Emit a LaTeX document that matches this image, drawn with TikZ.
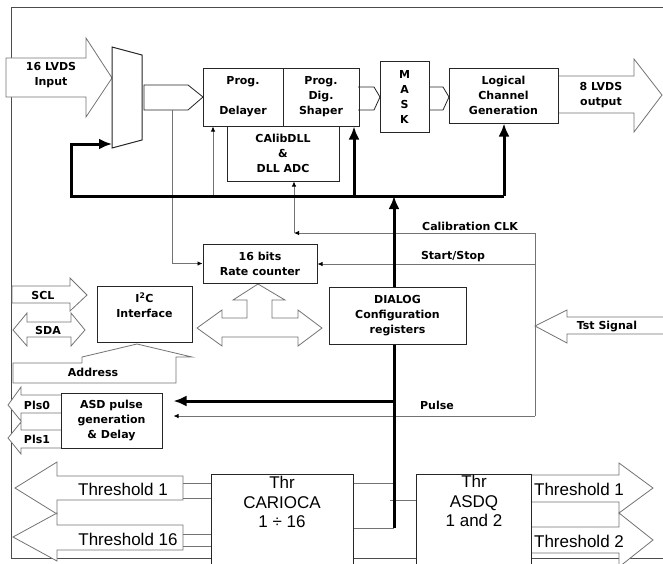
\documentclass[tikz,border=0pt]{standalone}
\usepackage{fontspec}
\setmainfont{DejaVu Sans}
\newfontfamily\grand{Liberation Sans}
\usetikzlibrary{arrows.meta}

\begin{document}
\begin{tikzpicture}[
		x=1pt, y=-1pt,
		bloc/.style={
			draw=black!85,
			line width=1pt,
			fill=white,
			inner sep=0pt,
			align=center,
			font=\fontsize{11}{15}\selectfont\bfseries,
		},
		etiq/.style={
			inner sep=0pt,
			align=center,
			font=\fontsize{11}{15}\selectfont\bfseries,
		},
		grandetiq/.style={
			inner sep=0pt,
			align=center,
			font=\grand\fontsize{17}{19.5}\selectfont,
		},
		fleche/.style={
			draw=black!55,
			line width=0.8pt,
			fill=white,
		},
		fil/.style={
			draw=black!55,
			line width=0.8pt,
			>={Latex[length=5pt, width=4.5pt, color=black]},
		},
		bus/.style={
			line width=3pt,
			>={Latex[length=13pt, width=11pt]},
		},
	]

		\useasboundingbox (0,0) rectangle (663,563);

		% Cadre
		\draw[black!70, line width=0.8pt] (663,7) -- (11,7) -- (11,558) -- (663,558);

		% Fleches larges (entrees / sorties)
		\draw[fleche] (6,58) -- (86,58) -- (86,38) -- (112,78) -- (86,117) -- (86,97) -- (6,97) -- cycle;
		\node[etiq] (lvdsin) at (51,75) {16 LVDS\\Input};

		\draw[fleche] (558,76) -- (634,76) -- (634,59) -- (662,95) -- (634,132) -- (634,113) -- (558,113) -- cycle;
		\node[etiq] (lvdsout) at (601,95) {8 LVDS\\output};

		\draw[fleche] (663,317) -- (567,317) -- (567,310) -- (535,326) -- (567,343) -- (567,334) -- (663,334);
		\node[etiq] (tst) at (607,326) {Tst Signal};

		\draw[fleche] (12,286) -- (70,286) -- (70,278) -- (87,295) -- (70,311) -- (70,303) -- (12,303) -- cycle;
		\node[etiq] (scl) at (43,295) {SCL};

		\draw[fleche] (13,330) -- (27,313) -- (27,322) -- (71,322) -- (71,313) -- (85,330) -- (71,346) -- (71,337) -- (27,337) -- (27,346) -- cycle;
		\node[etiq] (sda) at (48,330) {SDA};

		\draw[fleche] (13,363) -- (82,363) -- (82,357) -- (137,344) -- (192,357) -- (176,357) -- (176,383) -- (13,383) -- cycle;
		\node[etiq] (addr) at (93,372) {Address};

		\draw[fleche] (197,328) -- (222,310) -- (222,318) -- (247,318) -- (247,300) -- (233,300) -- (258,284) -- (285,300) -- (272,300) -- (272,318) -- (298,318) -- (298,310) -- (322,328) -- (298,346) -- (298,337) -- (222,337) -- (222,346) -- cycle;

		\draw[fleche] (61,395) -- (21,395) -- (21,387) -- (8,405) -- (21,421) -- (21,413) -- (61,413);
		\node[etiq] (pls0) at (37,405) {Pls0};
		\draw[fleche] (61,430) -- (21,430) -- (21,422) -- (8,438) -- (21,454) -- (21,448) -- (61,448);
		\node[etiq] (pls1) at (37,439) {Pls1};

		\draw[fleche] (183,476) -- (57,476) -- (57,462) -- (15,488) -- (57,514) -- (57,500) -- (183,500) -- cycle;
		\node[grandetiq] (thrA) at (123,489) {Threshold 1};
		\draw[fleche] (183,525) -- (57,525) -- (57,513) -- (13,537) -- (57,561) -- (57,550) -- (183,550) -- cycle;
		\node[grandetiq] (thrB) at (128,539) {Threshold 16};

		\draw[fleche] (532,475) -- (619,475) -- (619,463) -- (653,488) -- (619,513) -- (619,502) -- (532,502);
		\node[grandetiq] (thrC) at (579,489) {Threshold 1};
		\draw[fleche] (532,527) -- (619,527) -- (619,513) -- (653,540) -- (619,567) -- (619,553) -- (532,553);
		\node[grandetiq] (thrD) at (579,541) {Threshold 2};

		% Multiplexeur
		\draw[draw=black!85, line width=1pt, fill=white] (112,47) -- (142,55) -- (142,140) -- (112,148) -- cycle;
		\coordinate (muxin) at (112,144);
		\draw[fleche, draw=black!85] (144,85) -- (188,85) -- (203,97) -- (188,110) -- (144,110) -- cycle;
		\coordinate (tap) at (172,110);

		% Blocs
		\node[bloc, minimum width=80pt, minimum height=58pt] (delayer) at (243,97) {Prog.\\[15pt]Delayer};
		\node[bloc, minimum width=76pt, minimum height=58pt] (shaper) at (321,97) {Prog.\\Dig.\\Shaper};
		\node[bloc, minimum width=112pt, minimum height=55pt] (calib) at (283,153.5) {CAlibDLL\\\&\\DLL ADC};
		\node[bloc, minimum width=49pt, minimum height=71pt] (mask) at (404.5,96.5) {M\\A\\S\\K};
		\node[bloc, minimum width=109pt, minimum height=55pt] (logic) at (503.5,95.5) {Logical\\Channel\\Generation};
		\node[bloc, minimum width=114pt, minimum height=39pt] (rate) at (260,263.5) {16 bits\\Rate counter};
		\node[bloc, minimum width=95pt, minimum height=56pt] (i2c) at (144.5,314) {};
		\node[etiq] (i2ctxt) at (144.5,305) {I\textsuperscript{2}C\\Interface};
		\node[bloc, minimum width=137pt, minimum height=57pt] (dialog) at (397.5,315.5) {DIALOG\\Configuration\\registers};
		\node[bloc, minimum width=101pt, minimum height=55pt] (asd) at (111.5,420.5) {ASD pulse\\generation\\\& Delay};
		\node[bloc, minimum width=142pt, minimum height=101pt, anchor=north west] (carioca) at (211,474) {};
		\node[grandetiq] (cariocatxt) at (282,502) {Thr\\CARIOCA\\1 ÷ 16};
		\node[bloc, minimum width=115pt, minimum height=101pt, anchor=north west] (asdq) at (416,474) {};
		\node[grandetiq] (asdqtxt) at (474,501) {Thr\\ASDQ\\1 and 2};

		% Liaisons entre blocs
		\draw[fleche, fill=none, draw=black!85] (358,87) -- (374,87) -- (380,97) -- (374,110) -- (358,110);
		\draw[fleche, fill=none, draw=black!85] (429,87) -- (443,87) -- (449,97) -- (443,110) -- (429,110);

		% Points de repere
		\coordinate (busL) at (71,196);
		\coordinate (busR) at (504,196);
		\coordinate (busA) at (213,196);
		\coordinate (busS) at (354,196);
		\coordinate (busD) at (394,196);
		\coordinate (clkR) at (535,233);
		\coordinate (clkL) at (294,233);
		\coordinate (ssR) at (535,264);
		\coordinate (pulseR) at (535,416);
		\coordinate (pulseT) at (394,401);
		\coordinate (busB) at (394,528);

		% Signaux fins
		\draw[fil, ->] (tap) |- (rate.west);
		\draw[fil, ->] (busA) -- (busA |- delayer.south);
		\draw[fil, ->] (clkR) -- (clkL);
		\draw[fil, ->] (clkL) -- (clkL |- calib.south);
		\draw[fil] (clkR) -- (pulseR);
		\draw[fil, ->] (ssR) -- (rate.east |- ssR);
		\draw[fil, ->, shorten >=11pt] (pulseR) -- (asd.east |- pulseR);
		\draw[fil] (carioca.east |- 0,483) -- (busD |- 0,483);
		\draw[fil] (carioca.east |- busB) -- (busB);
		\draw[fil] (390,500) -- (asdq.west |- 0,500);
		\draw[fil] (183,483) -- (carioca.west |- 0,483);
		\draw[fil] (183,498) -- (carioca.west |- 0,498);
		\draw[fil] (183,534) -- (carioca.west |- 0,534);
		\draw[fil] (183,546) -- (carioca.west |- 0,546);

		\node[etiq] (clklab) at (470,226) {Calibration CLK};
		\node[etiq] (sslab) at (453,257) {Start/Stop};
		\node[etiq] (pulselab) at (437,405) {Pulse};

		% Bus principal
		\draw[bus, ->] (busR) -- (busL) -- (busL |- muxin) -- (muxin);
		\draw[bus, ->] (busR) -- (busR |- logic.south);
		\draw[bus, ->] (busS) -- (busS |- shaper.south);
		\draw[bus, ->] (dialog.north -| busD) -- (busD);
		\draw[bus] (dialog.south -| busD) -- (busB);
		\draw[bus, ->, shorten >=11pt] (pulseT) -- (asd.east |- pulseT);

	\end{tikzpicture}
\end{document}
